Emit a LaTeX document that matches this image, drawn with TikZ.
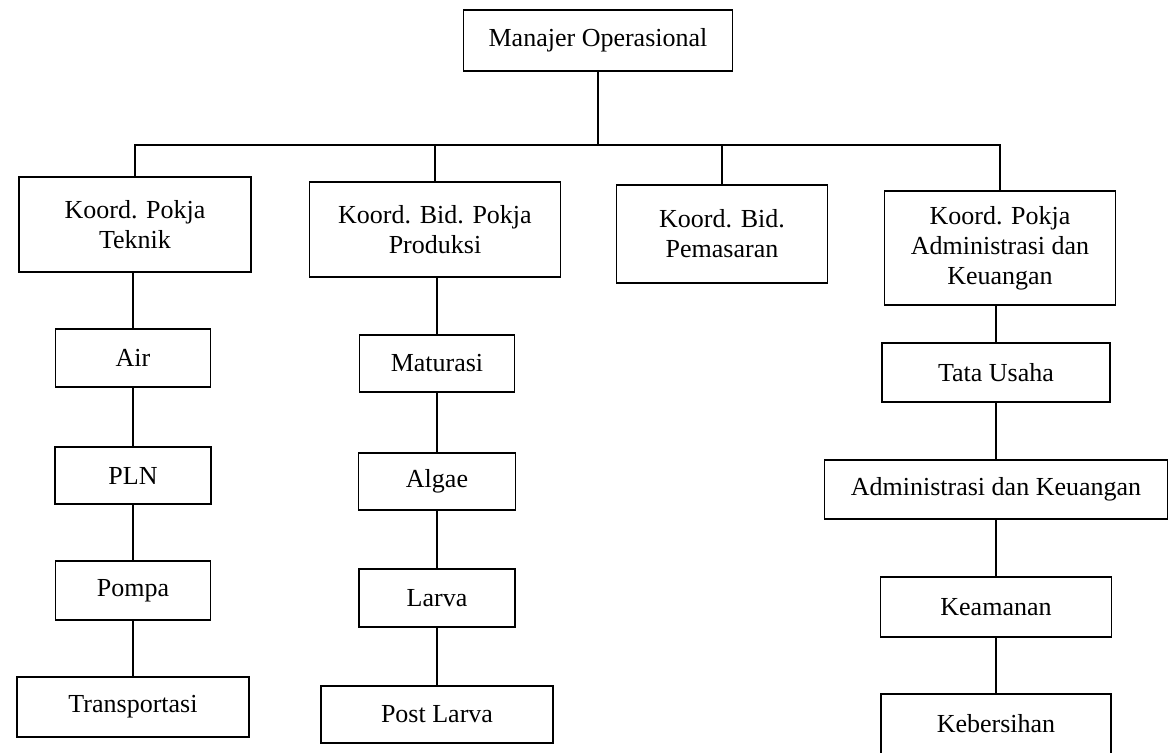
\documentclass[tikz,border=0pt]{standalone}
\usepackage{fontspec}
\setmainfont{Liberation Serif}

\begin{document}
\begin{tikzpicture}[x=0.5pt, y=-0.5pt, line width=0.9pt,
    orgbox/.style 2 args={draw, align=center, inner sep=0pt,
        minimum width=#1*0.5pt, minimum height=#2*0.5pt,
        font=\fontsize{13}{15}\selectfont}]
    \useasboundingbox (0,0) rectangle (1168,753);
    % Top
    \node[orgbox={269}{61}] (mgr) at (598,40.5) {Manajer Operasional};
    \coordinate (bus) at (598,145);
    % Coordinators
    \node[orgbox={232}{95}] (tek) at (135,224.5) {Koord. Pokja\\Teknik};
    \node[orgbox={251}{95}] (prod) at (435,229.5) {Koord. Bid. Pokja\\Produksi};
    \node[orgbox={211}{98}] (pem) at (722,234) {Koord. Bid.\\Pemasaran};
    \node[orgbox={231}{114}] (adm) at (1000,248) {Koord. Pokja\\Administrasi dan\\Keuangan};
    \draw (mgr) -- (bus);
    \foreach \n in {tek,prod,pem,adm}
        \draw (bus) -| (\n.north);
    % Teknik
    \node[orgbox={155}{58}] (air) at (133,358) {Air};
    \node[orgbox={156}{57}] (pln) at (133,475.5) {PLN};
    \node[orgbox={155}{59}] (pompa) at (133,590.5) {Pompa};
    \node[orgbox={232}{60}] (trans) at (133,707) {Transportasi};
    % Produksi
    \node[orgbox={155}{57}] (mat) at (437,363.5) {Maturasi};
    \node[orgbox={157}{57}] (alg) at (437,481.5) {Algae};
    \node[orgbox={156}{58}] (lar) at (437,598) {Larva};
    \node[orgbox={232}{57}] (plar) at (437,714.5) {Post Larva};
    % Administrasi
    \node[orgbox={228}{59}] (tu) at (996,372.5) {Tata Usaha};
    \node[orgbox={343}{59}] (adk) at (996,489.5) {Administrasi dan Keuangan};
    \node[orgbox={231}{60}] (kea) at (996,607) {Keamanan};
    \node[orgbox={230}{60}] (keb) at (996,724) {Kebersihan};
    % Chains
    \foreach \a/\b in {tek/air,air/pln,pln/pompa,pompa/trans,
        mat/alg,alg/lar,lar/plar,adm/tu,tu/adk,adk/kea,kea/keb}
        \draw (\a.south -| \b) -- (\b.north);
    \draw (prod.south -| mat) -- (mat.north);
\end{tikzpicture}
\end{document}
